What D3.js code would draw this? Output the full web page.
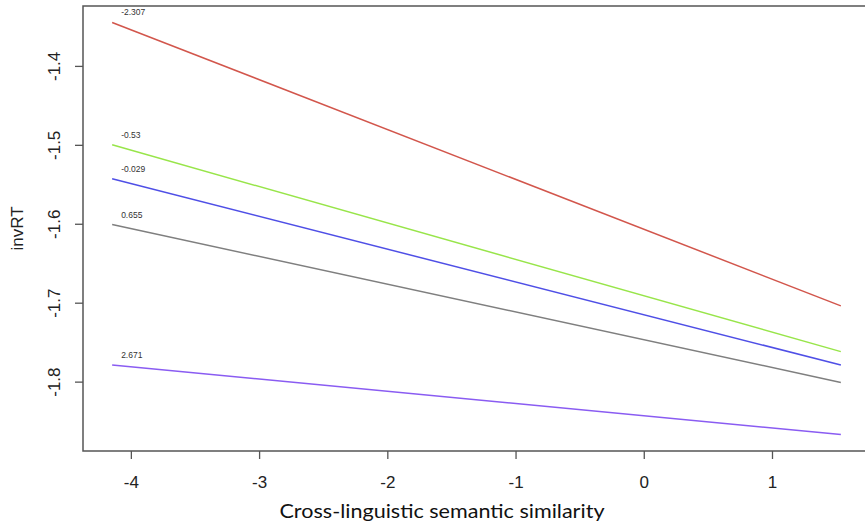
<!DOCTYPE html>
<html>
<head>
<meta charset="utf-8">
<script src="https://cdn.jsdelivr.net/npm/d3@7"></script>
<style>
body{margin:0;background:#fff;}
svg{display:block;}
</style>
</head>
<body>
<svg id="chart" width="865" height="529"></svg>
<script>
// moderator levels (printed above each line) and fitted line ends
var levels=['-2.307','-0.53','-0.029','0.655','2.671'];
var colors=['#d2564c','#98e54a','#4f4fe6','#7f7f7f','#8a5cf2'];
var xStart=-4.146, xEnd=1.537;
var yStart=[-1.345,-1.500,-1.543,-1.601,-1.779];
var yEnd=[-1.704,-1.762,-1.779,-1.801,-1.867];
var xTicks=[-4,-3,-2,-1,0,1];
var yTicks=[-1.8,-1.7,-1.6,-1.5,-1.4];

var svg=d3.select('#chart');
var W=865,H=529;
var padLeft=83,padTop=6,padBottom=451,padRight=870;

// R style: 4% padding round data range
var xpad=(xEnd-xStart)*0.04;
var ymin=d3.min(yEnd), ymax=d3.max(yStart);
var ypad=(ymax-ymin)*0.04;
var xscale=d3.scaleLinear().domain([xStart-xpad,xEnd+xpad]).range([padLeft,padRight]);
var yscale=d3.scaleLinear().domain([ymin-ypad,ymax+ypad]).range([padBottom,padTop]);

svg.append('rect').attr('width',W).attr('height',H).attr('fill','#fff');

var line=d3.line()
    .x(function(d) {return xscale(d.x);})
    .y(function(d) {return yscale(d.y);});

for (var i=0; i<levels.length; i++) {
    var data0=[{x:xStart,y:yStart[i]},{x:xEnd,y:yEnd[i]}];
    svg.append('path')
        .attr('d',line(data0))
        .attr('fill','none')
        .attr('stroke',colors[i])
        .attr('stroke-width',1.5);
    svg.append('text')
        .attr('x',xscale(xStart)+9)
        .attr('y',yscale(yStart[i])-7)
        .style('font-family','Liberation Sans, Arial, sans-serif')
        .style('font-size','8.5px')
        .style('fill','#333')
        .text(levels[i]);
}

// box
svg.append('rect')
    .attr('x',padLeft).attr('y',padTop)
    .attr('width',padRight-padLeft).attr('height',padBottom-padTop)
    .attr('fill','none').attr('stroke','#555').attr('stroke-width',1.5);

var xaxis=svg.append('g')
    .attr('transform','translate(0,'+padBottom+')')
    .call(d3.axisBottom(xscale).tickValues(xTicks).tickSize(8).tickPadding(17).tickSizeOuter(0).tickFormat(d3.format('d')));
xaxis.select('.domain').remove();
xaxis.selectAll('line').attr('stroke','#555').attr('stroke-width',1.3);
xaxis.selectAll('text')
    .style('font-family','Liberation Sans, Arial, sans-serif')
    .style('font-size','17px')
    .attr('fill','#222')
    .text(function(d) {return d<0 ? '-'+Math.abs(d) : d;});

var yaxis=svg.append('g')
    .attr('transform','translate('+padLeft+',0)')
    .call(d3.axisLeft(yscale).tickValues(yTicks).tickSize(8).tickSizeOuter(0));
yaxis.select('.domain').remove();
yaxis.selectAll('line').attr('stroke','#555').attr('stroke-width',1.3);
yaxis.selectAll('text')
    .attr('transform','rotate(-90)')
    .attr('x',0).attr('y',-29).attr('dy','0.35em')
    .style('text-anchor','middle')
    .style('font-family','Liberation Sans, Arial, sans-serif')
    .style('font-size','17px')
    .attr('fill','#222')
    .text(function(d) {return '-'+Math.abs(d).toFixed(1);});

svg.append('text')
    .attr('transform','translate(17,'+((padTop+padBottom)/2)+') rotate(-90)')
    .attr('dy','0.35em')
    .style('text-anchor','middle')
    .style('font-family','Liberation Sans, Arial, sans-serif')
    .style('font-size','17px')
    .style('fill','#222')
    .text('invRT');

svg.append('text')
    .attr('x',442).attr('y',518)
    .style('text-anchor','middle')
    .style('font-family','Lato, Open Sans, sans-serif')
    .style('font-size','20px')
    .style('fill','#111')
    .attr('textLength',325).attr('lengthAdjust','spacingAndGlyphs')
    .text('Cross-linguistic semantic similarity');
</script>
</body>
</html>
